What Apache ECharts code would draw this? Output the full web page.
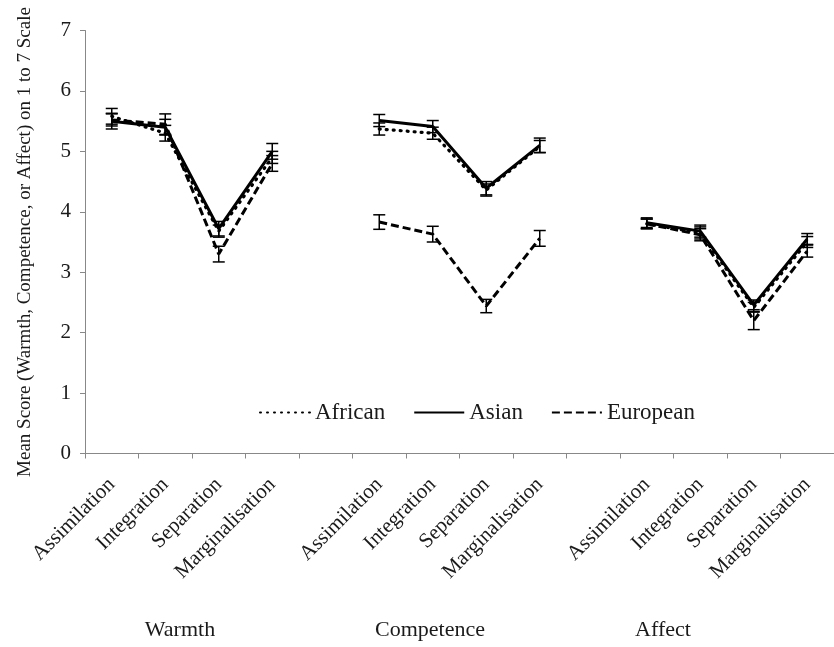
<!DOCTYPE html>
<html>
<head>
<meta charset="utf-8">
<script src="https://cdn.jsdelivr.net/npm/echarts@6/dist/echarts.min.js"></script>
<style>html,body{margin:0;padding:0;background:#fff}#c{width:834px;height:647px}</style>
</head>
<body>
<div id="c"></div>
<script>
// ---- data ----
const categories = ['Assimilation', 'Integration', 'Separation', 'Marginalisation'];
const groups = ['Warmth', 'Competence', 'Affect'];
const seriesNames = ['African', 'Asian', 'European'];
// means, in order Warmth(4), Competence(4), Affect(4)
const africanMean  = [5.58, 5.30, 3.68, 4.90,  5.37, 5.30, 4.36, 5.08,  3.80, 3.65, 2.42, 3.50];
const asianMean    = [5.50, 5.40, 3.72, 5.00,  5.51, 5.41, 4.39, 5.10,  3.82, 3.68, 2.46, 3.55];
const europeanMean = [5.52, 5.45, 3.30, 4.80,  3.83, 3.63, 2.44, 3.56,  3.80, 3.62, 2.20, 3.35];
// error bar half-lengths
const africanErr   = [0.13, 0.13, 0.10, 0.10,  0.10, 0.10, 0.10, 0.10,  0.08, 0.10, 0.08, 0.09];
const asianErr     = [0.13, 0.13, 0.12, 0.13,  0.10, 0.10, 0.11, 0.12,  0.08, 0.10, 0.08, 0.09];
const europeanErr  = [0.10, 0.17, 0.13, 0.13,  0.12, 0.13, 0.11, 0.13,  0.08, 0.10, 0.15, 0.10];
const yTicks = [0, 1, 2, 3, 4, 5, 6, 7];

// ---- build category slots (a blank slot between groups) ----
const xCats = [];
groups.forEach((g, gi) => { if (gi > 0) xCats.push(''); categories.forEach(c => xCats.push(c)); });
function slotOf(k) { const gi = Math.floor(k / 4); return gi * 5 + (k % 4); }
function expand(arr) {
  const out = xCats.map(() => null);
  arr.forEach((v, k) => { out[slotOf(k)] = v; });
  return out;
}
function errData(mean, err) { return mean.map((m, k) => [slotOf(k), m - err[k], m + err[k]]); }

const FONT = '"Liberation Serif", "Times New Roman", serif';
const TXT = '#1a1a1a';

function errRender(params, api) {
  const x = api.value(0);
  const lo = api.coord([x, api.value(1)]);
  const hi = api.coord([x, api.value(2)]);
  const hw = 6;
  const st = { stroke: '#000', lineWidth: 1.5 };
  return {
    type: 'group',
    children: [
      { type: 'line', shape: { x1: lo[0], y1: lo[1], x2: hi[0], y2: hi[1] }, style: st },
      { type: 'line', shape: { x1: lo[0] - hw, y1: lo[1], x2: lo[0] + hw, y2: lo[1] }, style: st },
      { type: 'line', shape: { x1: hi[0] - hw, y1: hi[1], x2: hi[0] + hw, y2: hi[1] }, style: st }
    ]
  };
}

const lineStyles = [
  { color: '#000', width: 3.2, type: [1, 6], cap: 'round' },
  { color: '#000', width: 3 , type: 'solid' },
  { color: '#000', width: 3, type: [8, 4] }
];
const means = [africanMean, asianMean, europeanMean];
const errs = [africanErr, asianErr, europeanErr];

const series = [];
seriesNames.forEach((n, i) => {
  series.push({
    name: n, type: 'line', data: expand(means[i]), symbol: 'none',
    connectNulls: false, lineStyle: lineStyles[i], itemStyle: { color: '#000' },
    emphasis: { disabled: true }, z: 3, animation: false
  });
});
seriesNames.forEach((n, i) => {
  series.push({
    name: n + ' err', type: 'custom', renderItem: errRender,
    data: errData(means[i], errs[i]), encode: { x: 0, y: [1, 2] }, z: 4, animation: false
  });
});

const groupLabelPos = [[180, 630], [430, 630], [663, 630]];

const chart = echarts.init(document.getElementById('c'), null, { renderer: 'canvas' });
chart.setOption({
  backgroundColor: '#fff',
  animation: false,
  grid: { left: 85, top: 30.5, right: -9.5, bottom: 193.5, containLabel: false },
  legend: {
    data: seriesNames, left: 254, top: 396, itemWidth: 50, itemHeight: 14, itemGap: 28,
    itemStyle: { opacity: 0 },
    textStyle: { fontFamily: FONT, fontSize: 23, color: TXT }, selectedMode: false
  },
  xAxis: {
    type: 'category', data: xCats, boundaryGap: true,
    axisLine: { lineStyle: { color: '#888', width: 1 } },
    axisTick: { show: true, interval: 0, length: 5, lineStyle: { color: '#888' } },
    axisLabel: { interval: 0, rotate: 45, margin: 28, fontFamily: FONT, fontSize: 21, color: TXT },
    splitLine: { show: false }
  },
  yAxis: {
    type: 'value', min: yTicks[0], max: yTicks[yTicks.length - 1], interval: 1,
    name: 'Mean Score (Warmth, Competence, or Affect) on 1 to 7 Scale',
    nameLocation: 'middle', nameGap: 50,
    nameTextStyle: { fontFamily: FONT, fontSize: 19, color: TXT },
    axisLine: { show: true, lineStyle: { color: '#888', width: 1 } },
    axisTick: { show: true, length: 5, lineStyle: { color: '#888' } },
    axisLabel: { margin: 14, fontFamily: FONT, fontSize: 21, color: TXT },
    splitLine: { show: false }
  },
  graphic: groups.map((g, i) => ({
    type: 'text', x: groupLabelPos[i][0], y: groupLabelPos[i][1],
    style: { text: g, font: '22px ' + FONT, fill: TXT, align: 'center', verticalAlign: 'middle' }
  })),
  series: series
});
</script>
</body>
</html>
